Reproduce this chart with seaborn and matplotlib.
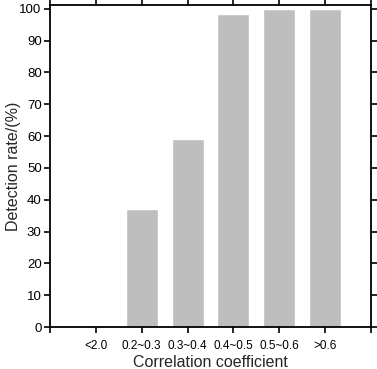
import matplotlib
matplotlib.use("Agg")
import matplotlib.pyplot as plt
import pandas as pd
import seaborn as sb

categories = ["<2.0", "0.2~0.3", "0.3~0.4", "0.4~0.5", "0.5~0.6", ">0.6"]
detection_rate = [0, 37, 59, 98.5, 100, 100]
y_ticks = [0, 10, 20, 30, 40, 50, 60, 70, 80, 90, 100]

df = pd.DataFrame({"Correlation": categories, "Rate": detection_rate})

sb.set_style("ticks")
plt.rcParams["font.family"] = ["Liberation Sans", "DejaVu Sans"]

fig = plt.figure(figsize=(3.77, 3.69), dpi=100)
ax = fig.add_axes([0.1326, 0.1138, 0.984 - 0.1326, 0.9864 - 0.1138])

sb.barplot(data=df, x="Correlation", y="Rate", color="#BEBEBE", saturation=1,
           width=0.7, ax=ax)

ax.set_xlim(-1, 6)
ax.set_ylim(0, 101.2)
ax.set_xticks(range(-1, 7))
ax.set_xticklabels([""] + categories + [""])
ax.set_yticks(y_ticks)
ax.tick_params(axis="both", direction="out", length=4, width=1.2, labelsize=9.5,
               top=True, right=True, color="black", labelcolor="black", pad=2)
ax.tick_params(axis="x", labelsize=8.5, pad=5)
for s in ax.spines.values():
    s.set_linewidth(1.3)
    s.set_color("black")

ax.set_xlabel("Correlation coefficient", fontsize=11.5)
ax.set_ylabel("Detection rate/(%)", fontsize=11.5)
ax.xaxis.set_label_coords(0.5, -0.088)
ax.yaxis.set_label_coords(-0.09, 0.5)

fig.savefig("out.png", dpi=100)
